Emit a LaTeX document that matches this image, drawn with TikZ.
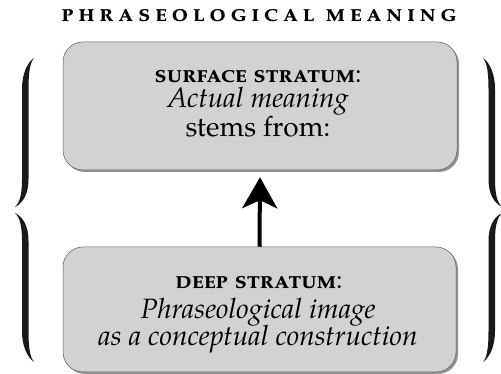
\documentclass[tikz,border=0pt]{standalone}
\usepackage{fontspec}
\setmainfont{texgyrepagella}[Extension=.otf, UprightFont=*-regular, BoldFont=*-bold, ItalicFont=*-italic, BoldItalicFont=*-bolditalic]
\usetikzlibrary{arrows.meta,shadows}
\definecolor{boxgray}{RGB}{209,210,212}
\definecolor{edgegray}{RGB}{90,90,90}
\newcommand\halfbrace{(34,316) .. controls (27,311) and (22,300) .. (22,285) -- (22,195) .. controls (22,180) and (20,172) .. (15,167) .. controls (23,171) and (28.5,180) .. (28.5,195) -- (28.5,285) .. controls (28.5,302) and (30,311) .. (34,316) -- cycle}
\tikzset{
  stratum/.style={draw=edgegray, line width=0.5pt, fill=boxgray, rounded corners=20pt,
    inner sep=0pt,
    drop shadow={shadow xshift=2pt, shadow yshift=-2pt, fill=black!60, opacity=0.7}},
  heading/.style={anchor=base, inner sep=0pt, font=\fontsize{26}{30}\selectfont\bfseries\scshape},
  stratumhead/.style={anchor=base, inner sep=0pt, font=\fontsize{26}{30}\selectfont\scshape},
  stratumtext/.style={anchor=base, inner sep=0pt, font=\fontsize{28}{30}\selectfont},
  bracefill/.style={fill=black!90},
  liftarrow/.style={line width=4pt, -{Stealth[length=31pt,width=35pt,inset=8pt]}}
}
\begin{document}
\begin{tikzpicture}[x=1pt,y=1pt]
\path[use as bounding box, fill=white] (0,0) rectangle (501,374);
\node[heading] (title) at (259,352) {\addfontfeature{LetterSpace=17.5}phraseological meaning};
\node[stratum, minimum width=394pt, minimum height=128pt] (surface) at (260,268) {};
\node[stratum, minimum width=393pt, minimum height=125pt] (deep) at (259.5,64.5) {};
\node[stratumhead] (surfhead) at (258,291) {\textbf{surface stratum}:};
\node[stratumtext] (surfmain) at (258,266) {\itshape Actual meaning};
\node[stratumtext] (surfstem) at (258,237) {stems from:};
\node[stratumhead] (deephead) at (259,85) {\textbf{deep stratum}:};
\node[stratumtext] (deepmain) at (258,55) {\itshape Phraseological image};
\node[stratumtext] (deepsub) at (258,28) {\itshape as a conceptual construction};
\draw[liftarrow] (deep.north) -- ([yshift=-7pt]surface.south);
\fill[bracefill] \halfbrace;
\begin{scope}[shift={(0,328)}, yscale=-1]
  \fill[bracefill] \halfbrace;
\end{scope}
\begin{scope}[shift={(517,0)}, xscale=-1]
  \fill[bracefill] \halfbrace;
\end{scope}
\begin{scope}[shift={(517,328)}, xscale=-1, yscale=-1]
  \fill[bracefill] \halfbrace;
\end{scope}
\end{tikzpicture}
\end{document}
